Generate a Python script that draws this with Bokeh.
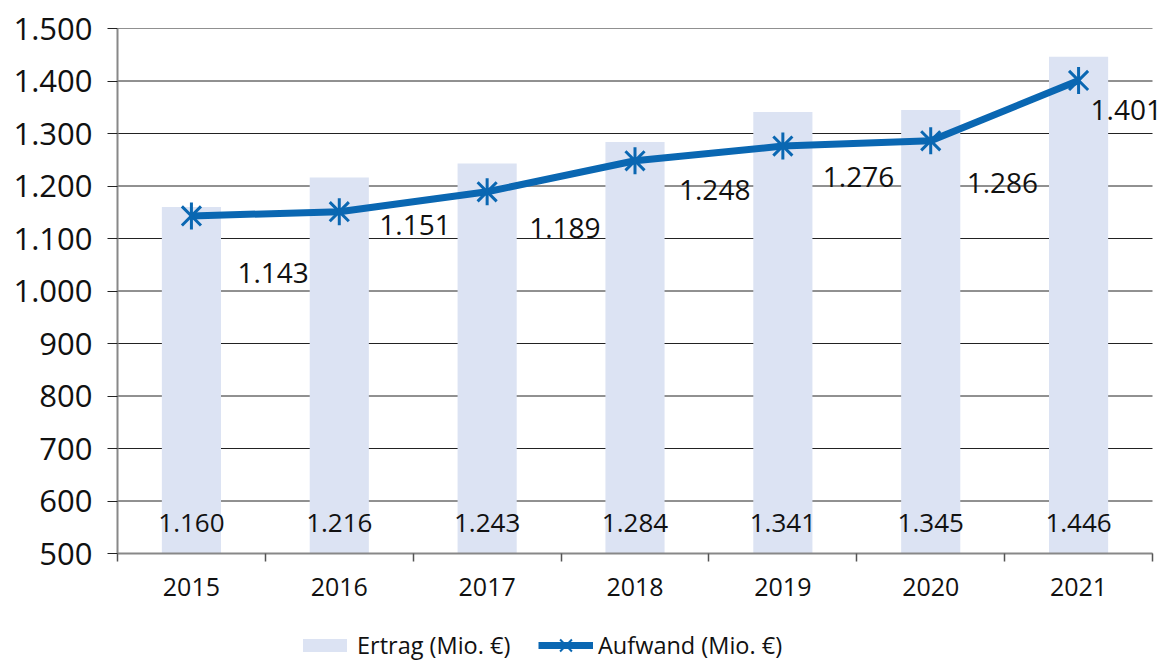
from bokeh.plotting import figure
from bokeh.layouts import column
from bokeh.models import ColumnDataSource, Range1d, FixedTicker, Legend, LegendItem
from bokeh.core.properties import value
from bokeh.embed import file_html
from bokeh.resources import INLINE
import math

years = ["2015", "2016", "2017", "2018", "2019", "2020", "2021"]
ertrag = [1160, 1216, 1243, 1284, 1341, 1345, 1446]
aufwand = [1143, 1151, 1189, 1248, 1276, 1286, 1401]
y_ticks = [500, 600, 700, 800, 900, 1000, 1100, 1200, 1300, 1400, 1500]

# label placement offsets (screen px) for the Aufwand labels
lab_dx = [46, 40, 42, 44, 40, 36, 12]
lab_dy = [57, 13, 36, 29, 31, 42, 30]

FONT = "Open Sans"
BAR_C = "#dce3f3"
LINE_C = "#0a67b2"
TXT_C = "#111111"

W = 1163
LEFT = 117
PLOT_W = 1035          # pixel width of the 7 categories
FRAME_W = W - LEFT


def de(v):
    return f"{v:,}".replace(",", ".")


n = len(years)
xc = [i + 0.5 for i in range(n)]
src = ColumnDataSource(dict(
    x=xc, ertrag=ertrag, aufwand=aufwand,
    elab=[de(v) for v in ertrag], alab=[de(v) for v in aufwand],
    base=[500] * n, dx=lab_dx, dy=lab_dy,
))
gsrc = ColumnDataSource(dict(y=y_ticks, x0=[0] * len(y_ticks), x1=[n] * len(y_ticks)))

p = figure(frame_width=FRAME_W, frame_height=525, output_backend="svg",
           toolbar_location=None,
           x_range=Range1d(0, n * FRAME_W / PLOT_W),
           y_range=Range1d(500, 1500),
           min_border_left=LEFT, min_border_right=0, min_border_top=28,
           min_border_bottom=55)
p.outline_line_color = None
p.xgrid.visible = False
p.ygrid.visible = False

p.segment(x0="x0", x1="x1", y0="y", y1="y", source=gsrc,
          line_color="#222222", line_width=1, level="underlay")

p.vbar(x="x", width=0.4, top="ertrag", bottom=500, source=src,
       fill_color=BAR_C, line_color=None)
p.line(x="x", y="aufwand", source=src, line_color=LINE_C, line_width=7)
p.scatter(x="x", y="aufwand", source=src, marker="x", size=27,
          line_color=LINE_C, line_width=3)
p.scatter(x="x", y="aufwand", source=src, marker="dash", size=27,
          angle=math.pi / 2, line_color=LINE_C, line_width=3)

p.text(x="x", y="base", text="elab", source=src, text_align="center",
       text_baseline="middle", y_offset=-31, text_font=value(FONT),
       text_font_size="26px", text_color=TXT_C)
p.text(x="x", y="aufwand", text="alab", source=src, text_align="left",
       text_baseline="middle", x_offset="dx", y_offset="dy",
       text_font=value(FONT), text_font_size="28px", text_color=TXT_C)

# y axis
ya = p.yaxis[0]
ya.ticker = FixedTicker(ticks=y_ticks, minor_ticks=[])
ya.major_label_overrides = {v: de(v) for v in y_ticks}
ya.axis_line_color = "#888888"
ya.axis_line_width = 2
ya.major_tick_line_color = "#222222"
ya.major_tick_out = 10
ya.major_tick_in = 0
ya.major_label_standoff = 15
ya.major_label_text_font = FONT
ya.major_label_text_font_size = "31px"
ya.major_label_text_color = TXT_C

# x axis
xa = p.xaxis[0]
xa.bounds = (0, n)
xa.ticker = FixedTicker(ticks=xc, minor_ticks=list(range(n + 1)))
xa.major_label_overrides = {x: y for x, y in zip(xc, years)}
xa.axis_line_color = "#888888"
xa.axis_line_width = 2
xa.major_tick_out = 0
xa.major_tick_in = 0
xa.minor_tick_line_color = "#555555"
xa.minor_tick_line_width = 1.5
xa.minor_tick_out = 8
xa.minor_tick_in = 0
xa.major_label_standoff = 16
xa.major_label_text_font = FONT
xa.major_label_text_font_size = "25px"
xa.major_label_text_color = TXT_C

# legend in its own strip below the chart (its frame is aligned with the chart's)
lf = figure(width=W, height=55, output_backend="svg", toolbar_location=None,
            x_range=Range1d(0, 1), y_range=Range1d(0, 1),
            x_axis_location=None, y_axis_location=None, min_border=0)
lf.outline_line_color = None
lf.xgrid.visible = False
lf.ygrid.visible = False
# off-screen stand-in renderers, used only for the legend glyphs
lb = lf.vbar(x=[-5], top=[-5], bottom=[-6], width=0.4, fill_color=BAR_C, line_color=None)
ll = lf.line(x=[-5, -4], y=[-5, -5], line_color=LINE_C, line_width=7)
lx = lf.scatter(x=[-5], y=[-5], marker="x", size=12, line_color=LINE_C, line_width=2)
ld = lf.scatter(x=[-5], y=[-5], marker="dash", size=12, angle=math.pi / 2,
                line_color=LINE_C, line_width=2)


def style(lg, gh):
    lg.background_fill_alpha = 0
    lg.border_line_color = None
    lg.padding = 0
    lg.margin = 0
    lg.spacing = 0
    lg.glyph_width = 55
    lg.glyph_height = gh
    lg.label_standoff = 5
    lg.label_text_font = FONT
    lg.label_text_font_size = "23.5px"
    lg.label_text_color = TXT_C


leg1 = Legend(items=[LegendItem(label="Ertrag (Mio. €)", renderers=[lb])],
              location=(180, 2), orientation="horizontal")
style(leg1, 16)
leg2 = Legend(items=[LegendItem(label="Aufwand (Mio. €)", renderers=[ll, lx, ld])],
              location=(421, -3), orientation="horizontal")
style(leg2, 42)
lf.add_layout(leg1, "center")
lf.add_layout(leg2, "center")

open("out.html", "w").write(file_html(column(p, lf, spacing=0), INLINE))
